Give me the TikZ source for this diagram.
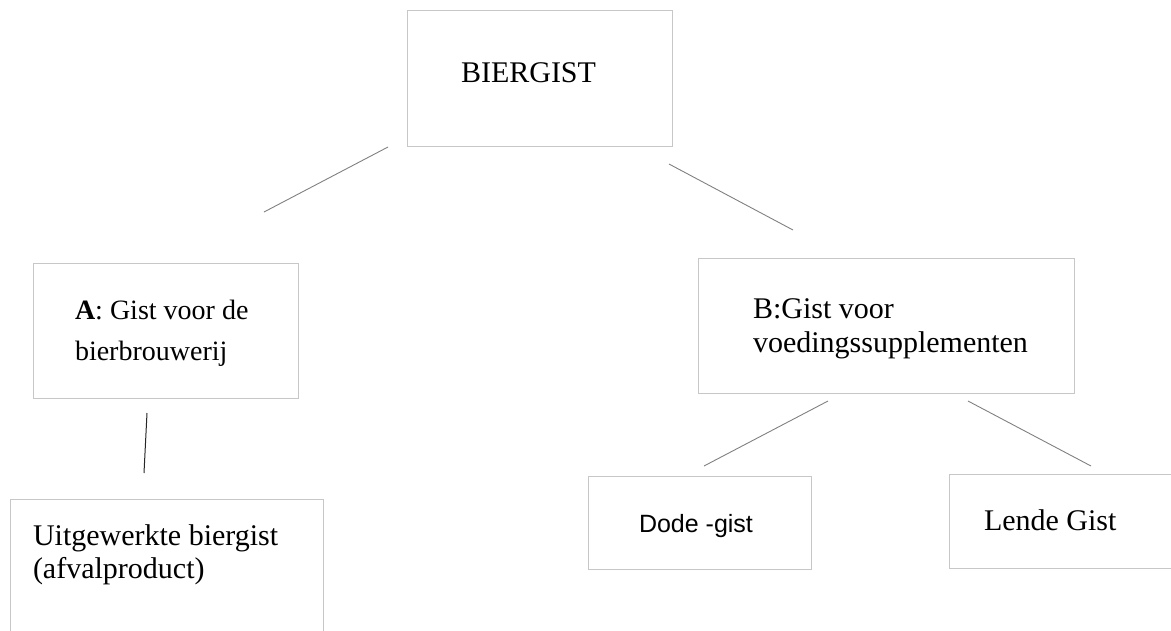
\documentclass[tikz,border=0pt]{standalone}
\usepackage{fontspec}
\setmainfont{Liberation Serif}
\newfontfamily\arialfont{Liberation Sans}
\begin{document}
\begin{tikzpicture}[x=1pt,y=-1pt,
  box/.style={draw=black!22, line width=1pt, inner sep=0pt, outer sep=0pt, anchor=north west},
  txt/.style={inner sep=0pt, outer sep=0pt, anchor=base west, font=\fontsize{30}{33}\selectfont},
  conn/.style={draw=black!50, line width=0.9pt},
  darkconn/.style={draw=black!85, line width=1pt}]
\useasboundingbox (0,0) rectangle (1171,630);
\clip (0,0) rectangle (1171,630);
% boxes
\node[box, minimum width=265pt, minimum height=136pt] (top) at (407,10) {};
\node[box, minimum width=265pt, minimum height=135pt] (boxA) at (33,263) {};
\node[box, minimum width=313pt, minimum height=170pt] (boxU) at (10,499) {};
\node[box, minimum width=376pt, minimum height=135pt] (boxB) at (698,258) {};
\node[box, minimum width=223pt, minimum height=93pt] (boxD) at (588,476) {};
\node[box, minimum width=250pt, minimum height=94pt] (boxL) at (949,474) {};
% texts
\node[txt] (tTop) at (461,82) {BIERGIST};
\node[txt, font=\fontsize{28}{31}\selectfont] (tA1) at (75,319) {\textbf{A}: Gist voor de};
\node[txt, font=\fontsize{28}{31}\selectfont] (tA2) at (75,360) {bierbrouwerij};
\node[txt] (tU1) at (33,545) {Uitgewerkte biergist};
\node[txt] (tU2) at (33,578) {(afvalproduct)};
\node[txt] (tB1) at (753,318) {B:Gist voor};
\node[txt] (tB2) at (753,352) {voedingssupplementen};
\node[txt, font=\arialfont\fontsize{25}{28}\selectfont] (tD) at (639,532) {Dode -gist};
\node[txt] (tL) at (984,530) {Lende Gist};
% connector end points
\coordinate (l1a) at (388,147); \coordinate (l1b) at (264,212);
\coordinate (r1a) at (669,164); \coordinate (r1b) at (793,230);
\coordinate (aua) at (147,413); \coordinate (aub) at (144,473);
\coordinate (bda) at (828,401); \coordinate (bdb) at (704,466);
\coordinate (bla) at (968,401); \coordinate (blb) at (1091,466);
% connectors
\draw[conn] (l1a) -- (l1b);
\draw[conn] (r1a) -- (r1b);
\draw[darkconn] (aua) -- (aub);
\draw[conn] (bda) -- (bdb);
\draw[conn] (bla) -- (blb);
\end{tikzpicture}
\end{document}
